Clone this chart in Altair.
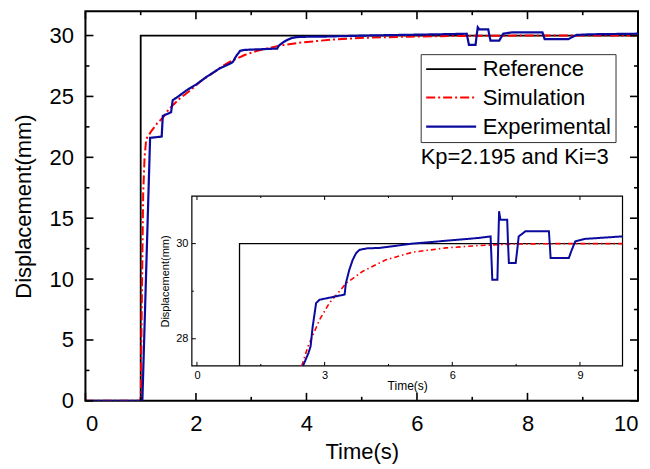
import altair as alt
import pandas as pd

FONT = "Liberation Sans"

# ---------------- data ----------------
series_names = ["Reference", "Simulation", "Experimental"]

ref_t = [0.0, 1.0, 1.0, 10.0]
ref_v = [0.0, 0.0, 30.0, 30.0]

sim_t = [0.0, 1.0, 1.02, 1.045, 1.07, 1.1, 1.2, 1.3, 1.41, 1.5, 1.7, 1.9, 2.1, 2.3,
         2.45, 2.61, 2.88, 3.11, 3.51, 3.9, 4.44, 5.07, 5.85, 6.63, 7.4, 8.5, 10.0]
sim_v = [0.0, 0.0, 8.0, 17.0, 20.0, 21.5, 22.2, 22.8, 23.3, 23.9, 24.8, 25.5, 26.3, 26.9,
         27.4, 27.84, 28.4, 28.75, 29.17, 29.42, 29.66, 29.82, 29.91, 29.96, 29.99, 30.0, 30.0]

exp_t = [0.0, 1.03, 1.17, 1.38, 1.40, 1.55, 1.58, 1.65, 1.83, 2.01, 2.19, 2.43, 2.62, 2.67,
         2.72, 2.80, 2.88, 3.47, 3.50, 3.58, 3.66, 3.74, 3.82, 4.0, 4.29, 5.07, 5.85, 6.63,
         6.90, 6.92, 6.94, 7.06, 7.08, 7.10, 7.13, 7.29, 7.31, 7.33, 7.49, 7.53, 7.56, 7.72,
         8.27, 8.29, 8.31, 8.74, 8.80, 8.89, 9.13, 9.97, 10.0]
exp_v = [0.0, 0.0, 21.6, 21.7, 23.4, 23.7, 24.7, 24.9, 25.5, 26.0, 26.6, 27.3, 27.7, 27.84,
         28.26, 28.75, 28.82, 28.93, 29.17, 29.45, 29.66, 29.8, 29.87, 29.9, 29.91, 30.0, 30.06, 30.12,
         30.15, 29.7, 29.24, 29.24, 30.0, 30.68, 30.5, 30.5, 30.0, 29.59, 29.59, 29.9, 30.15, 30.26,
         30.26, 30.0, 29.7, 29.7, 29.85, 30.05, 30.1, 30.15, 30.15]

note_text = ["Kp=2.195 and Ki=3"]

main_x_major = [0, 2, 4, 6, 8, 10]
main_x_minor = [1, 3, 5, 7, 9]
main_y_major = [0, 5, 10, 15, 20, 25, 30]
main_y_minor = [2.5, 7.5, 12.5, 17.5, 22.5, 27.5]

inset_x_major = [0, 3, 6, 9]
inset_x_minor = [1.5, 4.5, 7.5]
inset_y_major = [28, 30]
inset_y_minor = [29]

# ---------------- layout / style ----------------
W, H = 553, 390
MAIN_X = [0, 10]
MAIN_Y = [0, 32]
IN_X = [-0.12, 10]
IN_Y = [27.43, 31.0]
IX0, IX1 = 106.5, 537.5   # inset left/right in plot pixels
IY0, IY1 = 185, 355       # inset top/bottom in plot pixels

colors = ["#000000", "#FF0000", "#0A0A9E"]
dashes = [[1, 0], [9, 3, 2, 3], [1, 0]]
widths = [1.8, 2.2, 2.6]

series_data = [(series_names[0], ref_t, ref_v),
               (series_names[1], sim_t, sim_v),
               (series_names[2], exp_t, exp_v)]

rows = []
for name, ts, vs in series_data:
    for k, (t, v) in enumerate(zip(ts, vs)):
        rows.append({"series": name, "t": t, "v": v, "i": k})
df_main = pd.DataFrame(rows)


def clip_low(ts, vs, lo):
    """Keep the part of a polyline at or above lo, inserting the crossing points."""
    out = []
    for k in range(len(ts)):
        t, v = ts[k], vs[k]
        if k > 0:
            t0, v0 = ts[k - 1], vs[k - 1]
            if (v0 < lo) != (v < lo):
                f = (lo - v0) / (v - v0)
                out.append((t0 + f * (t - t0), lo))
        if v >= lo:
            out.append((t, v))
    return pd.DataFrame({"t": [p[0] for p in out], "v": [p[1] for p in out],
                         "i": list(range(len(out)))})


xs_main = alt.Scale(domain=MAIN_X, nice=False, zero=False)
ys_main = alt.Scale(domain=MAIN_Y, nice=False, zero=False)
xs_in = alt.Scale(domain=IN_X, range=[IX0, IX1], nice=False, zero=False)
ys_in = alt.Scale(domain=IN_Y, range=[IY1, IY0], nice=False, zero=False)

ax_x = alt.Axis(orient="bottom", values=main_x_major, ticks=False, tickSize=0, domain=False,
                grid=False, labelFontSize=22, labelPadding=13, title="Time(s)",
                titleFontSize=22, titlePadding=7)
ax_y = alt.Axis(orient="left", values=main_y_major, ticks=False, tickSize=0, domain=False,
                grid=False, labelFontSize=22, labelPadding=12, title="Displacement(mm)",
                titleFontSize=22, titlePadding=14)
ax_xi = alt.Axis(orient="bottom", offset=-(H - IY1), values=inset_x_major, ticks=False,
                 tickSize=0, domain=False, grid=False, labelFontSize=11, labelPadding=4,
                 title="Time(s)", titleFontSize=12, titlePadding=0)
ax_yi = alt.Axis(orient="left", offset=-IX0, values=inset_y_major, ticks=False, tickSize=0,
                 domain=False, grid=False, labelFontSize=11, labelPadding=4,
                 title="Displacement(mm)", titleFontSize=11, titlePadding=5)

legend = alt.Legend(title=None, orient="none", legendX=335.5, legendY=43, padding=4,
                    strokeColor="#333333", fillColor="white", cornerRadius=0,
                    symbolType="M-4,0H1", symbolSize=400, symbolStrokeWidth=2,
                    symbolOffset=30, labelOffset=5, rowPadding=6.5,
                    labelFontSize=22, labelFont=FONT, labelColor="black")

lines = alt.Chart(df_main).mark_line(clip=True).encode(
    x=alt.X("t:Q", scale=xs_main, axis=ax_x),
    y=alt.Y("v:Q", scale=ys_main, axis=ax_y),
    color=alt.Color("series:N", scale=alt.Scale(domain=series_names, range=colors), legend=legend),
    strokeDash=alt.StrokeDash("series:N", scale=alt.Scale(domain=series_names, range=dashes),
                              legend=legend),
    strokeWidth=alt.StrokeWidth("series:N", scale=alt.Scale(domain=series_names, range=widths),
                                legend=None),
    order="i:Q",
)


def xticks(vals, y_a, y_b, xs, ax, sw):
    return alt.Chart(pd.DataFrame({"t": vals})).mark_rule(color="black", strokeWidth=sw).encode(
        x=alt.X("t:Q", scale=xs, axis=ax), y=alt.value(y_a), y2=alt.value(y_b))


def yticks(vals, x_a, x_b, ys, ax, sw):
    return alt.Chart(pd.DataFrame({"v": vals})).mark_rule(color="black", strokeWidth=sw).encode(
        y=alt.Y("v:Q", scale=ys, axis=ax), x=alt.value(x_a), x2=alt.value(x_b))


MAJ, MIN = 8, 4
main_ticks = [
    xticks(main_x_major, H, H - MAJ, xs_main, ax_x, 1.6),
    xticks(main_x_minor, H, H - MIN, xs_main, ax_x, 1.6),
    xticks(main_x_major, 0, MAJ, xs_main, ax_x, 1.6),
    xticks(main_x_minor, 0, MIN, xs_main, ax_x, 1.6),
    yticks(main_y_major, 0, MAJ, ys_main, ax_y, 1.6),
    yticks(main_y_minor, 0, MIN, ys_main, ax_y, 1.6),
    yticks(main_y_major, W, W - MAJ, ys_main, ax_y, 1.6),
    yticks(main_y_minor, W, W - MIN, ys_main, ax_y, 1.6),
]

note = alt.Chart(pd.DataFrame({"label": note_text})).mark_text(
    align="left", baseline="middle", fontSize=22, font=FONT, color="black").encode(
    text="label:N", x=alt.value(335.5), y=alt.value(146))

main = alt.layer(lines, *main_ticks, note)

# ---------------- inset ----------------
box = alt.Chart(pd.DataFrame({"t": [IN_X[0]], "t2": [IN_X[1]], "v": [IN_Y[0]], "v2": [IN_Y[1]]})).mark_rect(
    fill="white", stroke="black", strokeWidth=1.2).encode(
    x=alt.X("t:Q", scale=xs_in, axis=ax_xi), x2="t2:Q",
    y=alt.Y("v:Q", scale=ys_in, axis=ax_yi), y2="v2:Q")

inset_styles = [(ref_t, ref_v, colors[0], [1, 0], 1.3),
                (sim_t, sim_v, colors[1], [5, 3, 1.5, 3], 1.6),
                (exp_t, exp_v, colors[2], [1, 0], 2.0)]
inset_lines = []
for ts, vs, c, d, w in inset_styles:
    inset_lines.append(
        alt.Chart(clip_low(ts, vs, IN_Y[0])).mark_line(color=c, strokeDash=d, strokeWidth=w).encode(
            x=alt.X("t:Q", scale=xs_in, axis=ax_xi),
            y=alt.Y("v:Q", scale=ys_in, axis=ax_yi),
            order="i:Q"))

inset_ticks = [
    xticks(inset_x_major, IY1, IY1 - 4, xs_in, ax_xi, 1),
    xticks(inset_x_minor, IY1, IY1 - 2, xs_in, ax_xi, 1),
    xticks(inset_x_major, IY0, IY0 + 4, xs_in, ax_xi, 1),
    xticks(inset_x_minor, IY0, IY0 + 2, xs_in, ax_xi, 1),
    yticks(inset_y_major, IX0, IX0 + 4, ys_in, ax_yi, 1),
    yticks(inset_y_minor, IX0, IX0 + 2, ys_in, ax_yi, 1),
]

inset = alt.layer(box, *inset_lines, *inset_ticks)

chart = alt.layer(main, inset).resolve_scale(
    x="independent", y="independent"
).properties(
    width=W, height=H,
    autosize=alt.AutoSizeParams(type="none"),
    padding={"left": 77.5, "top": 3, "right": 4, "bottom": 66},
).configure_view(
    stroke="black", strokeWidth=2
).configure_axis(
    labelFont=FONT, titleFont=FONT, labelColor="black", titleColor="black",
    titleFontWeight="normal"
)

chart.save("out.html", embed_options={"renderer": "svg", "actions": False})
